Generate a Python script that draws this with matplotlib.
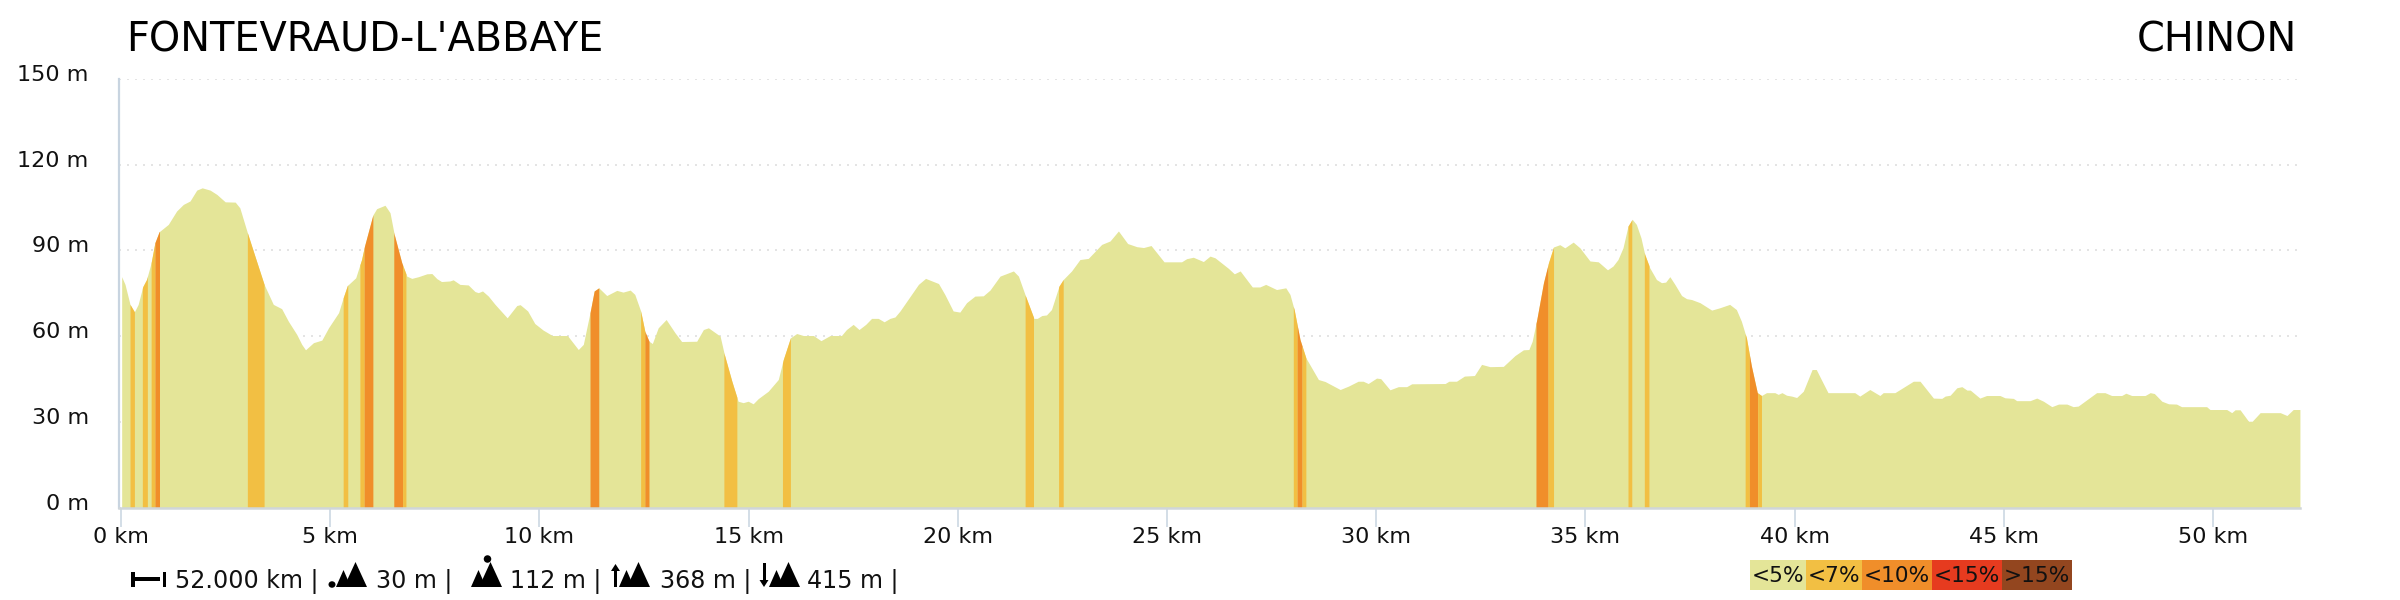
import numpy as np
import matplotlib
matplotlib.use("Agg")
import matplotlib.pyplot as plt
from matplotlib.patches import Polygon, Rectangle, Ellipse
from matplotlib.transforms import ScaledTranslation

km = [0.016,0.096,0.215,0.32,0.41,0.52,0.61,0.72,0.81,0.91,1.13,1.33,1.49,1.65,1.81,1.94,2.13,2.29,2.49,2.73,2.84,3.02,3.2,3.42,3.64,3.84,4.0,4.2,4.32,4.41,4.6,4.8,4.96,5.2,5.31,5.41,5.61,5.75,5.82,6.02,6.11,6.31,6.43,6.53,6.71,6.83,6.95,7.11,7.31,7.43,7.55,7.66,7.86,7.94,8.10,8.30,8.46,
      8.54,8.64,8.78,8.94,9.23,9.46,9.54,9.72,9.89,10.09,10.31,10.67,10.93,11.05,11.21,11.31,11.42,11.61,11.85,12.0,12.17,12.28,12.42,12.52,12.62,12.70,12.84,13.03,13.24,13.40,13.76,13.92,14.04,14.32,14.42,14.6,14.75,14.87,14.99,15.11,15.23,15.47,15.71,15.83,16.0,16.15,16.31,16.55,16.73,16.95,17.07,
      17.22,17.34,17.5,17.64,17.8,17.94,18.1,18.24,18.38,18.5,18.62,19.06,19.23,19.54,19.69,19.89,20.05,20.21,20.41,20.61,20.77,21.01,21.17,21.33,21.45,21.62,21.82,21.90,22.01,22.12,22.24,22.42,22.52,22.72,22.92,23.12,23.44,23.64,23.84,24.06,24.28,24.44,24.62,24.93,25.35,25.47,25.63,
      25.87,26.03,26.15,26.47,26.61,26.75,27.04,27.22,27.36,27.62,27.84,27.94,28.04,28.18,28.32,28.62,28.78,29.14,29.34,29.57,29.69,29.81,30.01,30.11,30.33,30.53,30.73,30.85,31.65,31.74,31.92,32.11,32.35,32.52,32.72,33.04,33.32,33.52,33.65,33.73,33.84,34.0,34.12,34.24,
      34.39,34.51,34.71,34.87,35.11,35.31,35.53,35.66,35.78,35.90,36.02,36.12,36.22,36.33,36.42,36.54,36.7,36.82,36.92,37.02,37.14,37.3,37.42,37.54,37.74,38.02,38.21,38.45,38.61,38.73,38.85,38.97,39.11,39.21,39.33,39.53,39.61,39.7,39.81,39.93,40.05,40.21,40.42,40.52,40.64,40.8,41.44,41.56,41.8,42.04,42.12,42.4,42.84,
      43.0,43.32,43.52,43.6,43.72,43.88,44.0,44.12,44.2,44.43,44.59,44.91,45.03,45.23,45.31,45.63,45.79,45.95,46.15,46.31,46.51,46.66,46.78,47.22,47.42,47.58,47.82,47.92,48.06,48.38,48.5,48.6,48.78,48.94,49.13,49.25,49.85,49.93,50.33,50.45,50.53,50.65,50.85,50.94,51.13,51.61,51.77,51.92,52.08]
elevation = [80.8,78.1,71.1,68.5,71.1,77.3,79.8,85.7,92.7,96.5,99.1,103.8,106.1,107.3,111.1,111.9,111.1,109.6,107.0,106.9,104.9,96.2,88.0,78.1,71.1,69.6,65.2,60.6,57.1,55.2,57.7,58.6,62.9,68.2,73.4,77.7,80.4,86.8,91.5,102.4,104.6,105.8,103.2,95.6,85.7,81.0,80.2,80.8,81.8,81.9,80.1,79.1,79.3,79.7,78.1,77.9,75.6,
      75.2,75.8,74.0,71.1,66.4,70.7,71.0,68.8,64.4,62.1,60.2,60.2,55.3,57.1,68.2,75.8,76.9,74.2,76.0,75.4,76.1,74.6,68.8,61.7,58.2,57.4,62.9,65.8,61.2,58.1,58.2,62.3,62.9,60.0,53.6,44.2,37.2,36.7,37.2,36.3,38.1,40.7,44.8,51.8,59.4,60.9,60.2,60.2,58.4,60.2,60.2,
      60.2,62.3,64.1,62.3,64.1,66.2,66.2,65.0,66.2,66.7,68.8,78.1,80.2,78.4,74.6,68.8,68.4,71.7,74.0,74.1,76.1,81.0,81.9,82.8,81.0,74.0,66.2,66.2,67.2,67.4,69.3,77.5,79.8,82.8,86.8,87.2,92.1,93.3,96.8,92.4,91.3,91.0,91.7,86.0,86.0,87.1,87.6,
      86.1,88.0,87.4,83.7,81.8,82.8,77.2,77.2,78.1,76.3,76.9,74.6,69.3,58.8,52.4,44.8,44.1,41.3,42.5,44.2,44.2,43.4,45.3,45.1,41.2,42.3,42.3,43.3,43.4,44.2,44.2,46.0,46.2,50.1,49.3,49.4,53.2,55.2,55.3,58.2,65.8,78.7,85.7,91.2,
      92.0,90.9,92.9,90.9,86.3,86.0,83.2,84.5,86.8,90.9,98.5,100.9,99.1,94.4,88.6,83.9,79.8,78.7,78.9,80.8,78.1,74.2,73.1,72.8,71.7,69.1,69.9,71.1,69.3,65.2,59.4,49.5,40.2,39.2,40.2,40.2,39.6,40.2,39.3,39.0,38.5,40.7,48.3,48.3,44.8,40.2,40.2,39.0,41.3,39.2,40.2,40.2,44.2,
      44.2,38.3,38.2,39.0,39.3,41.9,42.3,41.1,41.1,38.3,39.2,39.2,38.4,38.2,37.4,37.4,38.3,37.2,35.3,36.2,36.2,35.3,35.5,40.2,40.2,39.2,39.2,40.0,39.2,39.2,40.2,39.9,37.2,36.3,36.2,35.3,35.3,34.3,34.3,33.2,34.2,34.2,30.2,30.2,33.2,33.2,32.2,34.3,34.3]

band_start = [0.215,0.51,0.72,0.81,3.02,5.31,5.71,5.81,6.52,6.73,11.21,12.42,12.52,14.41,15.81,21.61,22.41,28.02,28.11,28.23,33.82,34.11,36.02,36.41,38.82,38.92,39.12]
band_end   = [0.32,0.63,0.81,0.92,3.42,5.42,5.81,6.02,6.73,6.81,11.42,12.52,12.62,14.72,16.0,21.81,22.52,28.11,28.23,28.32,34.11,34.24,36.11,36.52,38.92,39.12,39.21]
band_class = [1,1,1,2,1,1,1,2,2,1,2,1,2,1,1,1,1,1,2,1,2,1,1,1,1,2,1]

legend_labels = ["<5%", "<7%", "<10%", "<15%", ">15%"]
legend_colors = ["#E4E598", "#F2BF43", "#F08E2A", "#E63B1F", "#93461F"]
x_ticks = [0, 5, 10, 15, 20, 25, 30, 35, 40, 45, 50]
y_ticks = [0, 30, 60, 90, 120, 150]
start_name = "FONTEVRAUD-L'ABBAYE"
end_name = "CHINON"
stat_labels = ["52.000 km |", "30 m |", "112 m |", "368 m |", "415 m |"]

W, H = 2400, 600
plt.rcParams["font.family"] = "DejaVu Sans"
fig = plt.figure(figsize=(W / 100, H / 100), dpi=100, facecolor="white")

L, R, T, B = 119, 2299.5, 79, 507.5
ax = fig.add_axes([L / W, 1 - B / H, (R - L) / W, (B - T) / H])
ax.set_xlim(-0.048, 52.07)
ax.set_ylim(0, 150)

km_a = np.array(km)
el_a = np.array(elevation)
ax.fill_between(km_a, el_a, 0, color=legend_colors[0], lw=0, zorder=2)
for s, e, c in zip(band_start, band_end, band_class):
    inside = km_a[(km_a > s) & (km_a < e)]
    xs = np.concatenate([[s], inside, [e]])
    ax.fill_between(xs, np.interp(xs, km_a, el_a), 0, color=legend_colors[c], lw=0, zorder=3)

ax.set_yticks(y_ticks, [f"{v} m" for v in y_ticks])
ax.set_xticks(x_ticks, [f"{v} km" for v in x_ticks])
ax.tick_params(axis="y", length=0, pad=21.8, labelsize=16, labelcolor="#111111")
ax.tick_params(axis="x", length=13.5, width=1.1, color="#C8D4E0", pad=0.5, labelsize=16, labelcolor="#111111")
offset = ScaledTranslation(0, 6 / 100, fig.dpi_scale_trans)
for lab in ax.get_yticklabels():
    lab.set_transform(lab.get_transform() + offset)
ax.grid(axis="y", color="#E4E4E4", lw=1.44, linestyle=(0, (1, 3)), zorder=1)
ax.set_axisbelow(True)
for side in ["top", "right"]:
    ax.spines[side].set_visible(False)
ax.spines["left"].set_color("#C8D4E0")
ax.spines["left"].set_linewidth(1.6)
ax.spines["left"].set_zorder(5)
ax.spines["bottom"].set_color("#D0D6DA")
ax.spines["bottom"].set_linewidth(1.8)
ax.spines["bottom"].set_zorder(5)

ov = fig.add_axes([0, 0, 1, 1], facecolor="none")
ov.set_xlim(0, W)
ov.set_ylim(H, 0)
ov.axis("off")

ov.text(126.5, 51.5, start_name, fontsize=28.7, color="black", ha="left", va="baseline")
ov.text(2297, 51.5, end_name, fontsize=28.7, color="black", ha="right", va="baseline")

stat_x = [175, 376, 510, 660, 807]
for x, s in zip(stat_x, stat_labels):
    ov.text(x, 587.5, s, fontsize=17.1, color="#111111", ha="left", va="baseline")

def tri(x0, x1, ytop, ybot=587):
    ov.add_patch(Polygon([(x0, ybot), ((x0 + x1) / 2, ytop), (x1, ybot)], closed=True, fc="black", ec="none"))

def mountains(x):
    tri(x, x + 15, 570)
    tri(x + 8, x + 31, 562)

# distance icon
ov.add_patch(Rectangle((131, 572), 3.5, 15, fc="black", ec="none"))
ov.add_patch(Rectangle((134, 577), 26, 3.5, fc="black", ec="none"))
ov.add_patch(Rectangle((163, 572), 3, 15, fc="black", ec="none"))
# lowest point
ov.add_patch(Ellipse((332, 584.5), 7, 6.5, fc="black", ec="none"))
mountains(336)
# highest point
ov.add_patch(Ellipse((487.5, 559), 7.5, 7.5, fc="black", ec="none"))
mountains(471)
# ascent
ov.add_patch(Polygon([(611, 571), (615.5, 564), (620, 571)], closed=True, fc="black", ec="none"))
ov.add_patch(Rectangle((614, 570), 3, 17, fc="black", ec="none"))
mountains(619)
# descent
ov.add_patch(Polygon([(759.5, 580), (764, 587), (768.5, 580)], closed=True, fc="black", ec="none"))
ov.add_patch(Rectangle((762.5, 563), 3, 18, fc="black", ec="none"))
mountains(769)

legend_edges = [1750, 1806, 1862, 1932, 2002, 2072]
for i, (lab, col) in enumerate(zip(legend_labels, legend_colors)):
    x0, x1 = legend_edges[i], legend_edges[i + 1]
    ov.add_patch(Rectangle((x0, 560), x1 - x0, 30, fc=col, ec="none"))
    ov.text((x0 + x1) / 2, 581.5, lab, fontsize=15.6, color="#111111", ha="center", va="baseline")

fig.savefig("out.png", dpi=100)
